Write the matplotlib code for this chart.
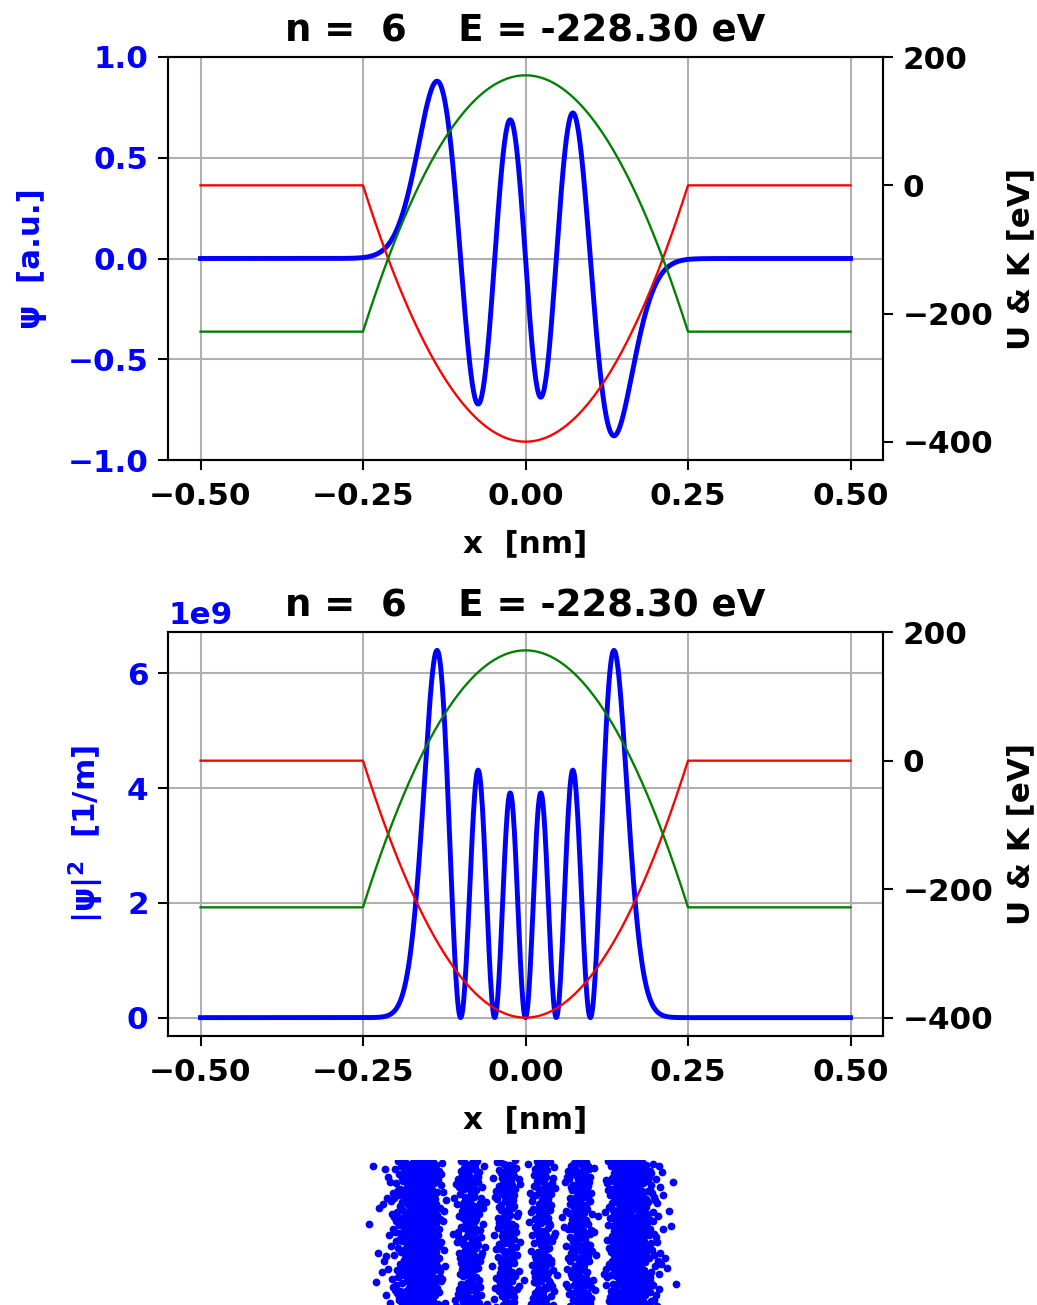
import numpy as np
import matplotlib
matplotlib.use("Agg")
import matplotlib.pyplot as plt

# ---------------- data / physical parameters ----------------
x_limits = [-0.5, 0.5]          # nm, computational box
n_grid = 1001
well_halfwidth = 0.25           # nm
well_depth = 400.0              # eV (U = -400 eV at centre, 0 outside)
state_n = 6
energy_label = -228.30          # eV, from the title
psi_peak_au = 0.88              # outer peak of psi in [a.u.]
psi_ticks = [-1.0, -0.5, 0.0, 0.5, 1.0]
energy_ticks = [-400, -200, 0, 200]
x_ticks = [-0.50, -0.25, 0.00, 0.25, 0.50]
n_samples = 1900                # dots in the position-measurement strip

HB2M = 0.0380998                # hbar^2 / 2 m_e  in eV nm^2

# ---------------- solve the 1-D Schroedinger equation ----------------
x = np.linspace(x_limits[0], x_limits[1], n_grid)
dx = x[1] - x[0]
U = np.where(np.abs(x) <= well_halfwidth,
             -well_depth * (1 - (x / well_halfwidth) ** 2), 0.0)
t = HB2M / dx ** 2
Hm = np.diag(2 * t + U) + np.diag(-t * np.ones(n_grid - 1), 1) + np.diag(-t * np.ones(n_grid - 1), -1)
vals, vecs = np.linalg.eigh(Hm)
psi = vecs[:, state_n - 1].copy()
psi /= np.sqrt(np.sum(psi ** 2) * dx * 1e-9)      # 1/sqrt(m)
first = np.argmax(np.abs(psi) > 0.5 * np.abs(psi).max())
if psi[first] < 0:
    psi = -psi
psi2 = psi ** 2                                   # 1/m
psi_au = psi / np.abs(psi).max() * psi_peak_au
E = energy_label
K = E - U


# ---------------- deterministic (Halton) sampling of |psi|^2 ----------------
def halton(i, b):
    f, r = 1.0, 0.0
    while i > 0:
        f /= b
        r += f * (i % b)
        i //= b
    return r


idx = np.arange(1, n_samples + 1)
u = np.array([halton(i, 2) for i in idx])
v = np.array([halton(i, 3) for i in idx])
cdf = np.cumsum(psi2)
cdf /= cdf[-1]
xs = np.interp(u, cdf, x)
ys = v

# ---------------- figure ----------------
plt.rcParams.update({
    "font.family": ["DejaVu Sans"],
    "font.size": 12,
    "font.weight": "bold",
    "axes.labelweight": "bold",
    "axes.titleweight": "bold",
    "mathtext.default": "bf",
    "xtick.major.size": 4.0,
    "ytick.major.size": 4.0,
    "xtick.major.pad": 4.5,
})
DPI = 186
W, H = 1037, 1305
fig = plt.figure(figsize=(W / DPI, H / DPI), dpi=DPI)


def px_axes(l, t_, r, b):
    return fig.add_axes([l / W, 1 - b / H, (r - l) / W, (b - t_) / H])


title = f"n = {state_n:2d}    E = {E:.2f} eV"

# top: psi
ax1 = px_axes(168, 57, 883, 460)
ax1.plot(x, psi_au, color="blue", lw=1.9)
ax1.set_ylim(-1, 1)
ax1.set_yticks(psi_ticks)
ax1.set_xticks(x_ticks)
ax1.grid(True)
ax1.set_xlabel("x  [nm]", labelpad=7)
ax1.set_ylabel("ψ  [a.u.]", color="blue", labelpad=8)
ax1.tick_params(axis="y", labelcolor="blue")
ax1.set_title(title)
ax1b = ax1.twinx()
ax1b.plot(x, U, color="red", lw=0.9)
ax1b.plot(x, K, color="green", lw=0.9)
ax1b.set_yticks(energy_ticks)
ax1b.set_ylabel("U & K [eV]", labelpad=5)

# bottom: |psi|^2
ax2 = px_axes(168, 632, 883, 1036)
ax2.plot(x, psi2, color="blue", lw=1.9)
ax2.set_xticks(x_ticks)
ax2.grid(True)
ax2.set_xlabel("x  [nm]", labelpad=7)
ax2.set_ylabel("|ψ|$^2$  [1/m]", color="blue", labelpad=8)
ax2.tick_params(axis="y", labelcolor="blue")
ax2.yaxis.get_offset_text().set_color("blue")
ax2.set_title(title)
ax2b = ax2.twinx()
ax2b.plot(x, U, color="red", lw=0.9)
ax2b.plot(x, K, color="green", lw=0.9)
ax2b.set_yticks(energy_ticks)
ax2b.set_ylabel("U & K [eV]", labelpad=5)

# strip of sampled positions
ax3 = px_axes(150, 1160, 900, 1340)
ax3.scatter(xs, ys, s=9, color="blue", linewidths=0)
ax3.set_xlim(-0.5, 0.5)
ax3.set_ylim(0, 1)
ax3.axis("off")

fig.savefig("out.png", dpi=DPI)
